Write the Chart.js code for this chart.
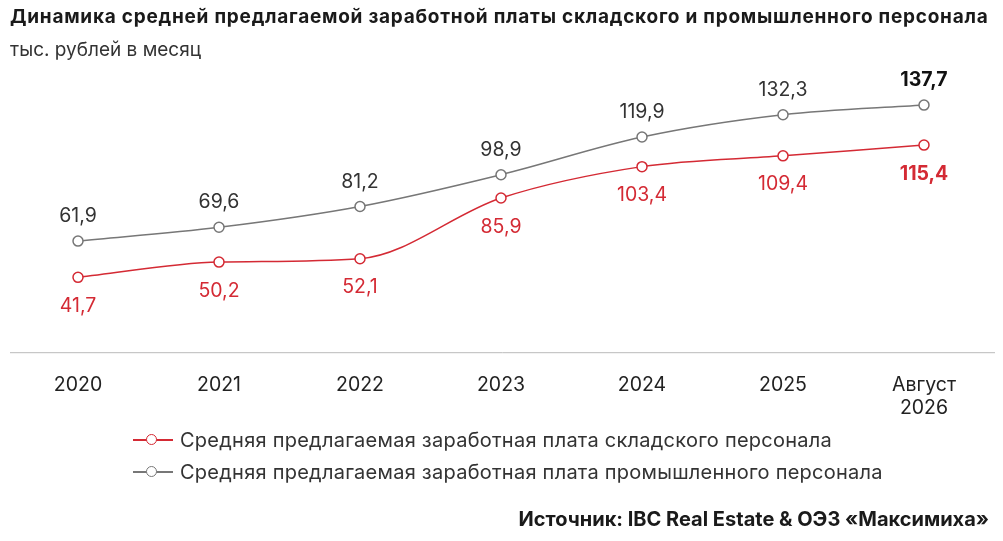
<!DOCTYPE html>
<html><head><meta charset="utf-8">
<script src="https://cdn.jsdelivr.net/npm/chart.js@4"></script>
<style>
body{margin:0;width:1003px;height:541px;background:#fff;font-family:Inter,"Noto Sans",sans-serif;color:#1a1a1a;position:relative;overflow:hidden}
#title{position:absolute;left:10px;top:5px;font-size:19px;font-weight:700;letter-spacing:0.75px;white-space:nowrap}
#sub{position:absolute;left:10px;top:38px;font-size:19px;color:#333}
#wrap{position:absolute;left:0;top:0;width:1003px;height:541px}
.leg{position:absolute;left:133px;font-size:20px;color:#333;height:24px;line-height:24px}
.leg i{position:absolute;left:0;top:11px;width:40px;height:2px}
.leg b{position:absolute;left:13px;top:6px;width:9px;height:9px;border-radius:50%;background:#fff;border:1.5px solid}
.leg span{position:absolute;left:47px;white-space:nowrap;letter-spacing:0.25px}
#src{position:absolute;right:14px;top:507px;font-size:20px;font-weight:700;white-space:nowrap}
</style></head><body>
<div id="wrap"><canvas id="c" width="1003" height="541"></canvas></div>
<div id="title">Динамика средней предлагаемой заработной платы складского и промышленного персонала</div>
<div id="sub">тыс. рублей в месяц</div>
<div class="leg" style="top:428px"><i style="background:#d42a34"></i><b style="border-color:#d42a34"></b><span>Средняя предлагаемая заработная плата складского персонала</span></div>
<div class="leg" style="top:460px"><i style="background:#777"></i><b style="border-color:#777"></b><span>Средняя предлагаемая заработная плата промышленного персонала</span></div>
<div id="src">Источник: IBC Real Estate &amp; ОЭЗ «Максимиха»</div>
<script>
const categories = ["2020","2021","2022","2023","2024","2025",["Август","2026"]];
const warehouse = [41.7, 50.2, 52.1, 85.9, 103.4, 109.4, 115.4];
const industrial = [61.9, 69.6, 81.2, 98.9, 119.9, 132.3, 137.7];
const RED = "#d42a34", GRAY = "#777";

const fmt = v => v.toFixed(1).replace(".", ",");

const extras = {
  id: "extras",
  afterDatasetsDraw(chart) {
    const ctx = chart.ctx;
    const y0 = chart.scales.y.getPixelForValue(0);
    ctx.save();
    ctx.strokeStyle = "#bbb"; ctx.lineWidth = 1;
    ctx.beginPath(); ctx.moveTo(10, y0 + 0.5); ctx.lineTo(995, y0 + 0.5); ctx.stroke();
    ctx.textAlign = "center";
    chart.data.datasets.forEach((ds, di) => {
      chart.getDatasetMeta(di).data.forEach((pt, i) => {
        const last = i === ds.data.length - 1;
        ctx.font = (last ? "bold " : "") + "19.5px Inter, 'Noto Sans', sans-serif";
        if (di === 0) {
          ctx.fillStyle = RED; ctx.textBaseline = "top";
          ctx.fillText(fmt(ds.data[i]), pt.x, pt.y + 19);
        } else {
          ctx.fillStyle = last ? "#111" : "#333"; ctx.textBaseline = "bottom";
          ctx.fillText(fmt(ds.data[i]), pt.x, pt.y - 15);
        }
      });
    });
    ctx.restore();
  }
};

new Chart(document.getElementById("c"), {
  type: "line",
  data: {
    labels: categories,
    datasets: [
      { data: warehouse, borderColor: RED },
      { data: industrial, borderColor: GRAY }
    ]
  },
  options: {
    responsive: false,
    animation: false,
    layout: { padding: { left: 78, right: 79, top: 83, bottom: 108 } },
    elements: {
      line: { borderWidth: 1.5, cubicInterpolationMode: "monotone" },
      point: { radius: 5, borderWidth: 1.5, backgroundColor: "#fff" }
    },
    plugins: { legend: { display: false }, tooltip: { enabled: false } },
    scales: {
      x: {
        offset: false,
        grid: { display: false }, border: { display: false },
        ticks: { color: "#222", font: { size: 19.5, family: "Inter, 'Noto Sans', sans-serif" }, padding: 13, maxRotation: 0, autoSkip: false }
      },
      y: {
        min: 0, max: 150, display: false,
        afterFit(s) { s.width = 0; }
      }
    }
  },
  plugins: [extras]
});
</script>
</body></html>
